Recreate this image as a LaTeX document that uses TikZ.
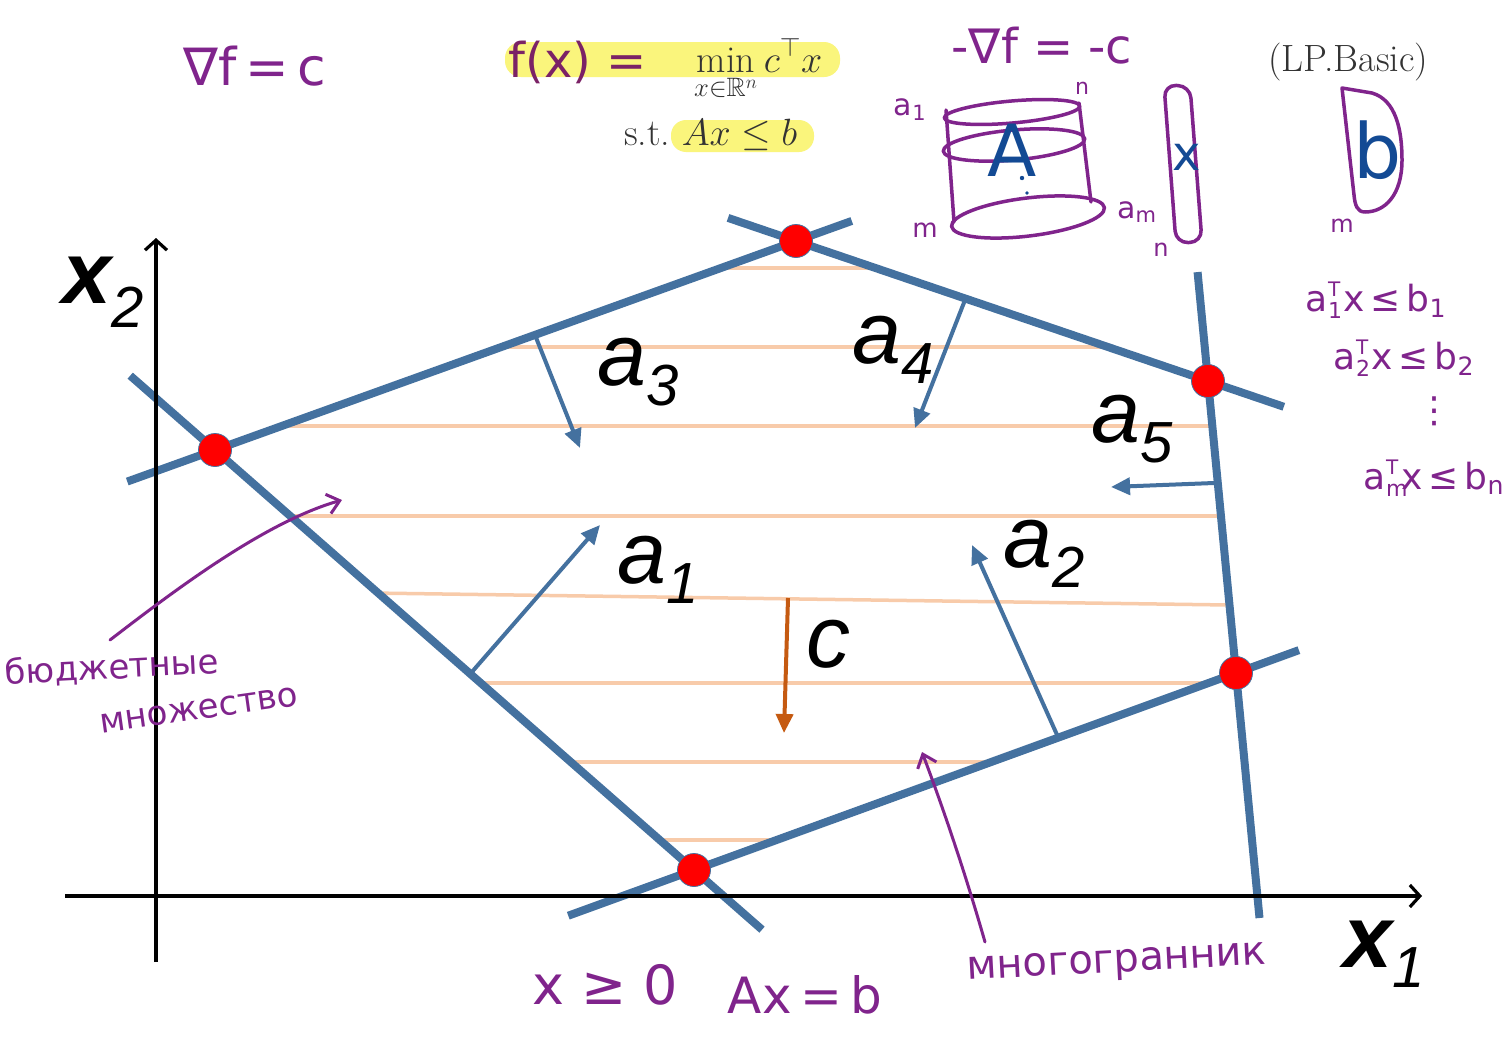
\RequirePackage{fix-cm}
\documentclass[tikz,border=0pt]{standalone}
\usepackage{amsmath,amssymb}
\usepackage{fontspec}
\usetikzlibrary{arrows.meta,calc}
\newfontfamily\handfont{DejaVu Sans}
\newfontfamily\labfont{Liberation Sans}
\definecolor{poly}{HTML}{44719F}
\definecolor{hatch}{HTML}{F8CBAA}
\definecolor{vert}{HTML}{FF0000}
\definecolor{ink}{HTML}{80248C}
\definecolor{fxink}{HTML}{7B2266}
\definecolor{inkblue}{HTML}{134A94}
\definecolor{cost}{HTML}{C55A11}
\definecolor{marker}{HTML}{FAF57C}
\definecolor{texgray}{HTML}{333333}
\newcommand{\subidx}[2]{#1\raisebox{-20pt}{\fontsize{58}{58}\selectfont #2}}
\newcommand{\rowvec}[1]{a\rlap{\raisebox{-7pt}{\fontsize{22}{22}\selectfont #1}}\raisebox{15pt}{\fontsize{20}{20}\selectfont T}\kern3pt}

\begin{document}
\begin{tikzpicture}[x=1pt,y=-1pt,
  edge/.style={poly,line width=8pt},
  normal/.style={poly,line width=4pt,-{Triangle[length=19pt,width=17pt]}},
  hatchline/.style={hatch,line width=3.5pt},
  vtx/.style={circle,fill=vert,draw=poly,line width=0.8pt,minimum size=33pt,inner sep=0pt},
  axis/.style={line width=3.2pt,-{Straight Barb[length=10pt,width=22pt]}},
  lab/.style={font=\labfont\itshape\fontsize{88}{88}\selectfont,inner sep=0pt,anchor=base west},
  cmtext/.style={texgray,font=\fontsize{38}{42}\selectfont,inner sep=0pt,anchor=base west},
  hand/.style={ink,font=\handfont\fontsize{#1}{#1}\selectfont,inner sep=0pt},
  hand/.default=44,
  pen/.style={ink,line width=3.5pt,line cap=round,line join=round},
  ]
  \useasboundingbox (0,0) rectangle (1509,1036);
  \fill[white] (0,0) rectangle (1509,1036);

  % marker highlights
  \fill[marker,rounded corners=16pt] (505,42) rectangle (840,77);
  \fill[marker,rounded corners=15pt] (671,120) rectangle (814,152);

  % vertices of the polygon
  \coordinate (v1) at (215,450);
  \coordinate (v2) at (796,241);
  \coordinate (v3) at (1208,381);
  \coordinate (v4) at (1236,673);
  \coordinate (v5) at (694,870);

  % level lines inside the feasible set
  \begin{scope}
    \clip (v1) -- (v2) -- (v3) -- (v4) -- (v5) -- cycle;
    \foreach \y in {268,347,426,516,683,762,840}
      \draw[hatchline] (150,\y) -- (1300,\y);
    \draw[hatchline] (300,592) -- (1300,606);
  \end{scope}

  % constraint lines
  \draw[edge] ($(v1)!-0.177!(v5)$) -- ($(v1)!1.142!(v5)$);
  \draw[edge] ($(v5)!-0.232!(v4)$) -- ($(v5)!1.116!(v4)$);
  \draw[edge] ($(v1)!-0.151!(v2)$) -- ($(v1)!1.096!(v2)$);
  \draw[edge] ($(v2)!-0.165!(v3)$) -- ($(v2)!1.184!(v3)$);
  \draw[edge] ($(v3)!-0.373!(v4)$) -- ($(v3)!1.839!(v4)$);

  % axes
  \coordinate (xs) at (65,896);
  \coordinate (xe) at (1422,896);
  \coordinate (ys) at (156,962);
  \coordinate (ye) at (156,238);
  \draw[axis] (xs) -- (xe);
  \draw[axis] (ys) -- (ye);

  % normals
  \coordinate (n1s) at (471,673);  \coordinate (n1e) at (600,525);
  \coordinate (n2s) at (1058,737); \coordinate (n2e) at (972,545);
  \coordinate (n3s) at (535,335);  \coordinate (n3e) at (580,448);
  \coordinate (n4s) at (965,300);  \coordinate (n4e) at (915,428);
  \coordinate (n5s) at (1214,483); \coordinate (n5e) at (1111,487);
  \foreach \i in {1,...,5}
    \draw[normal] (n\i s) -- (n\i e);

  % cost vector
  \coordinate (cs) at (788,598);
  \coordinate (ce) at (784,733);
  \draw[cost,line width=4pt,-{Triangle[length=19pt,width=17pt]}] (cs) -- (ce);

  % vertices
  \foreach \i in {1,...,5}
    \node[vtx] (dot\i) at (v\i) {};

  % labels
  \node[lab] (a1) at (617,583) {\subidx{a}{1}};
  \node[lab] (a2) at (1003,567) {\subidx{a}{2}};
  \node[lab] (a3) at (597,385) {\subidx{a}{3}};
  \node[lab] (a4) at (852,363) {\subidx{a}{4}};
  \node[lab] (a5) at (1091,442) {\subidx{a}{5}};
  \node[lab] (c) at (806,667) {c};
  \node[lab] (x2) at (62,303) {\textbf{x}\raisebox{-24pt}{\fontsize{58}{58}\selectfont 2}};
  \node[lab] (x1) at (1343,967) {\textbf{x}\raisebox{-20pt}{\fontsize{58}{58}\selectfont 1}};

  % typeset problem
  \node[cmtext] (objective) at (694,72) {$\displaystyle\min_{x\in\mathbb{R}^n} c^{\top}x$};
  \node[cmtext] (constr) at (624,145) {s.t.\ $Ax\le b$};
  \node[cmtext] (tag) at (1268,71) {(LP.Basic)};

  % handwritten notes
  \node[hand=52] (grad) at (255,66) {∇f\,=\,c};
  \node[hand=48,fxink] (fx) at (578,62) {f(x) =};
  \node[hand=48] (neggrad) at (1042,46) {-∇f = -c};

  % matrix sketch
  \draw[pen] (946,110) -- (954,222);
  \draw[pen] (1079,103) -- (1091,202);
  \draw[pen,rotate around={5:(1012,112)}] (1012,112) ellipse [x radius=68,y radius=11];
  \draw[pen,rotate around={5:(1014,145)}] (1014,145) ellipse [x radius=71,y radius=15];
  \draw[pen,rotate around={7:(1028,217)}] (1028,217) ellipse [x radius=77,y radius=19];
  \draw[pen,rounded corners=12pt] (1164,85) -- (1190,86) -- (1202,242) -- (1176,243) -- cycle;
  \draw[pen] (1342,88) -- (1372,93) .. controls (1396,100) and (1402,130) .. (1402,160)
    .. controls (1402,195) and (1385,212) .. (1365,212)
    .. controls (1357,212) and (1355,205) .. (1354,195) -- cycle;
  \node[hand=30] (arow1) at (910,110) {a\textsubscript{1}};
  \node[hand=22] (ncols) at (1082,88) {n};
  \node[hand=26] (mrows) at (925,230) {m};
  \node[hand=30] (arowm) at (1137,212) {a\textsubscript{m}};
  \node[hand=24] (nx) at (1161,250) {n};
  \node[hand=24] (mb) at (1342,226) {m};
  \node[hand=72,inkblue] (Amat) at (1012,150) {A};
  \fill[inkblue] (1022,178) circle (2.2);
  \fill[inkblue] (1027,193) circle (1.8);
  \node[hand=48,inkblue] (xvec) at (1187,157) {x};
  \node[hand=76,inkblue] (bvec) at (1378,150) {b};

  % rows of the system
  \node[hand=36] (row1) at (1376,300) {\rowvec{1}x\,≤\,b\textsubscript{1}};
  \node[hand=36] (row2) at (1404,358) {\rowvec{2}x\,≤\,b\textsubscript{2}};
  \node[hand=36] (rowdots) at (1434,411) {⋮};
  \node[hand=36] (rowm) at (1434,478) {\rowvec{m}x\,≤\,b\textsubscript{n}};

  % bottom notes
  \node[hand=54] (nonneg) at (605,985) {x ≥ 0};
  \node[hand=50] (eqc) at (805,995) {Ax\,=\,b};
  \node[hand=40,rotate=3] (polyname) at (1117,965) {многогранник};
  \node[hand=34,rotate=3] (budget1) at (112,668) {бюджетные};
  \node[hand=34,rotate=8] (budget2) at (199,710) {множество};

  % pointers
  \coordinate (budtail) at (110,640);
  \coordinate (budtip) at (342,500);
  \draw[pen,line width=3pt,-{Straight Barb[length=12pt,width=20pt]}]
    (budtail) .. controls (175,590) and (265,522) .. (budtip);
  \coordinate (polytail) at (985,942);
  \coordinate (polytip) at (922,752);
  \draw[pen,line width=3pt,-{Straight Barb[length=12pt,width=20pt]}]
    (polytail) .. controls (962,862) and (940,800) .. (polytip);
\end{tikzpicture}
\end{document}
